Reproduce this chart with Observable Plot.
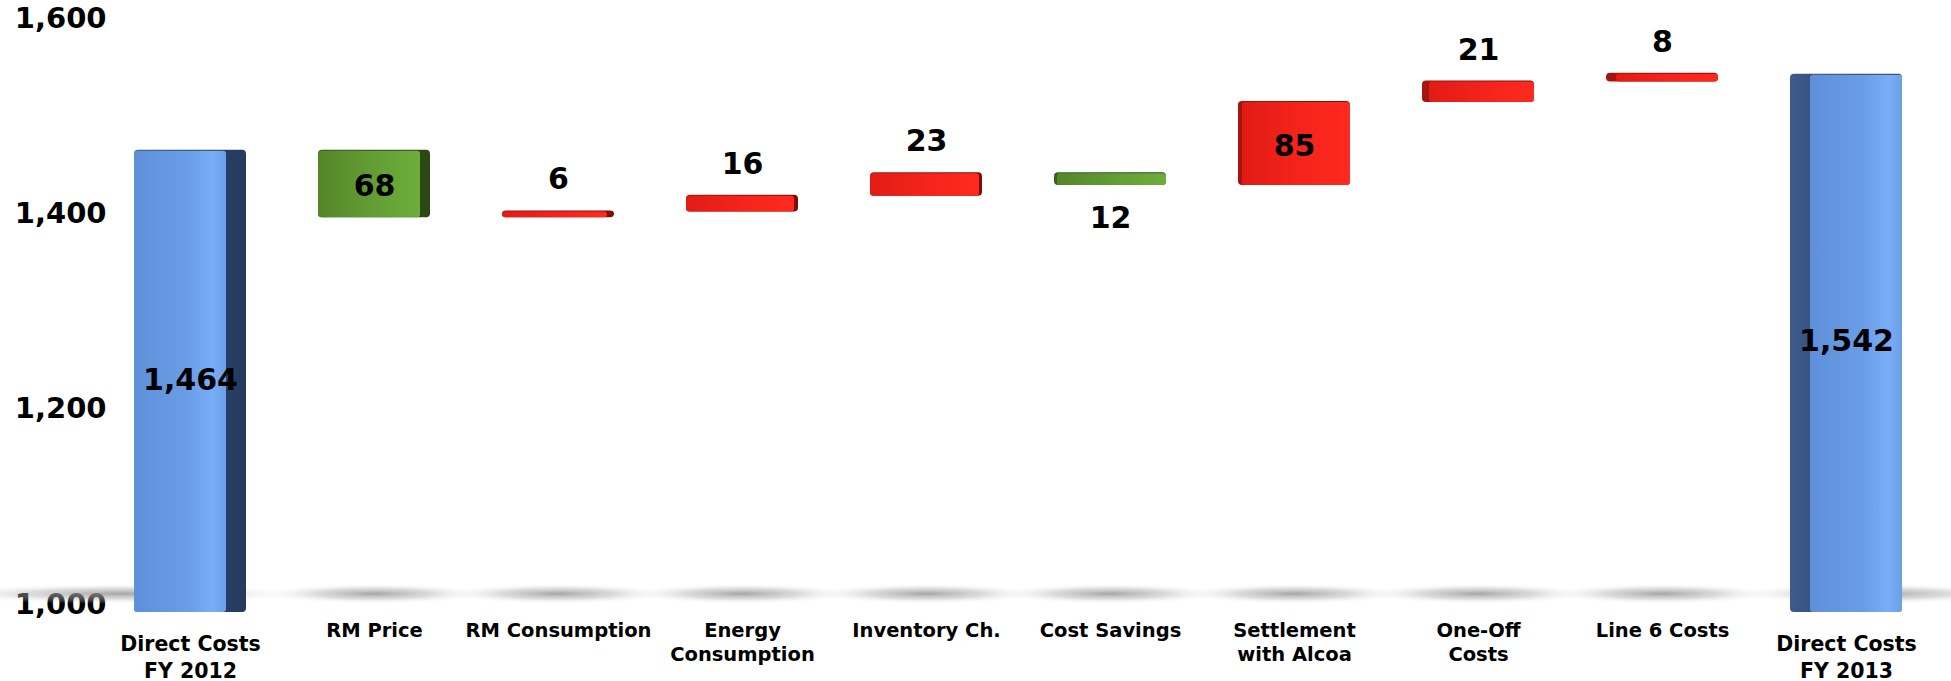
<!DOCTYPE html>
<html>
<head>
<meta charset="utf-8">
<script src="https://cdn.jsdelivr.net/npm/d3@7"></script>
<script src="https://cdn.jsdelivr.net/npm/@observablehq/plot@0.6"></script>
<style>
  html, body { margin: 0; padding: 0; background: #ffffff; }
  #chart svg { display: block; font-family: "DejaVu Sans", sans-serif; }
  #chart svg g[aria-label^="y-axis"] text { font: bold 29px "DejaVu Sans", sans-serif; fill: #000; }
</style>
</head>
<body>
<div id="chart"></div>
<script>
// ---- data ----
const categories = [
  "Direct Costs\nFY 2012", "RM Price", "RM Consumption", "Energy\nConsumption",
  "Inventory Ch.", "Cost Savings", "Settlement\nwith Alcoa", "One-Off\nCosts",
  "Line 6 Costs", "Direct Costs\nFY 2013"
];
const values = [1464, 68, 6, 16, 23, 12, 85, 21, 8, 1542];
const kinds = ["total", "decrease", "increase", "increase", "increase", "decrease", "increase", "increase", "increase", "total"];
const yTicks = [1000, 1200, 1400, 1600];
const yDomain = [1000, 1600];

// ---- derived waterfall table ----
const fmt = d3.format(",");
let running = 0;
const n = categories.length;
const rows = categories.map((cat, i) => {
  const v = values[i], k = kinds[i];
  let a, b;
  if (k === "total") { a = yDomain[0]; b = v; running = v; }
  else { a = running; b = running + (k === "increase" ? v : -v); running = b; }
  const inside = k === "total" || v >= 50;
  return {
    cat, i, k, v,
    y1: Math.min(a, b), y2: Math.max(a, b),
    label: fmt(v),
    pos: inside ? "inside" : (k === "increase" ? "above" : "below"),
    side: k === "total" ? 20 : Math.max(3, Math.round(Math.abs(i - (n - 1) / 2) * 2.8)),
    leftHalf: i < n / 2
  };
});

// ---- marks ----
const shadowMarks = rows.map(r => Plot.barY([r], {
  x: "cat", y1: () => 1000, y2: () => 1021,
  fill: "url(#floorShadow)",
  insetLeft: r.i === 0 ? -200 : -60,
  insetRight: r.i === n - 1 ? -120 : -60
}));

const barMarks = rows.flatMap(r => {
  const ext = r.k === "total" ? -8 : 0;
  return [
    Plot.barY([r], {
      x: "cat", y1: "y1", y2: "y2",
      fill: `url(#${r.k}-side)`, rx: 4, insetBottom: ext, insetTop: -1
    }),
    Plot.barY([r], {
      x: "cat", y1: "y1", y2: "y2",
      fill: `url(#${r.k}-front)`, rx: 3, insetBottom: ext,
      insetLeft: r.leftHalf ? 0 : r.side,
      insetRight: r.leftHalf ? r.side : 0
    })
  ];
});

const labelFont = { fontFamily: "DejaVu Sans", fontWeight: "bold", fontSize: 30, fill: "#000" };

const plot = Plot.plot({
  width: 1951,
  height: 681,
  marginLeft: 134,
  marginRight: 48,
  marginTop: 18,
  marginBottom: 77,
  style: { background: "#ffffff", overflow: "visible" },
  x: { domain: categories, axis: null, paddingInner: 0.39, paddingOuter: 0 },
  y: {
    domain: yDomain, ticks: yTicks, tickFormat: d => fmt(d),
    tickSize: 0, tickPadding: 28, label: null
  },
  marks: [
    ...shadowMarks,
    ...barMarks,
    Plot.text(rows.filter(r => r.pos === "inside"), {
      x: "cat", y: r => (r.y1 + r.y2) / 2, text: "label", ...labelFont, dy: 2
    }),
    Plot.text(rows.filter(r => r.pos === "above"), {
      x: "cat", y: "y2", text: "label", ...labelFont, dy: -32
    }),
    Plot.text(rows.filter(r => r.pos === "below"), {
      x: "cat", y: "y1", text: "label", ...labelFont, dy: 33
    }),
    Plot.text(rows.filter(r => r.k !== "total"), {
      x: "cat", text: "cat", frameAnchor: "bottom", lineAnchor: "top",
      dy: 15, fontFamily: "DejaVu Sans", fontWeight: "bold", fontSize: 19.5,
      lineHeight: 1.25, fill: "#000"
    }),
    Plot.text(rows.filter(r => r.k === "total"), {
      x: "cat", text: "cat", frameAnchor: "bottom", lineAnchor: "top",
      dy: 28, fontFamily: "DejaVu Sans", fontWeight: "bold", fontSize: 20.5,
      lineHeight: 1.3, fill: "#000"
    })
  ]
});

// gradients for the 3D-style faces and the floor shadow
const defs = d3.select(plot).insert("defs", ":first-child");
function lin(id, stops, x2 = "100%", y2 = "0%") {
  const g = defs.append("linearGradient").attr("id", id)
    .attr("x1", "0%").attr("y1", "0%").attr("x2", x2).attr("y2", y2);
  stops.forEach(([o, c]) => g.append("stop").attr("offset", o).attr("stop-color", c));
}
lin("total-front", [["0%", "#5f8fd9"], ["60%", "#6b9ee8"], ["85%", "#78adf7"], ["100%", "#6d9fe8"]]);
lin("total-side", [["0%", "#3d5b8c"], ["50%", "#2d4670"], ["100%", "#243a5e"]]);
lin("decrease-front", [["0%", "#55852a"], ["60%", "#64a035"], ["100%", "#6dad3b"]]);
lin("decrease-side", [["0%", "#3a5f1d"], ["100%", "#2b4714"]]);
lin("increase-front", [["0%", "#e01c15"], ["50%", "#f4231b"], ["100%", "#ff2a20"]]);
lin("increase-side", [["0%", "#a71510"], ["100%", "#7d0c08"]]);
const rg = defs.append("radialGradient").attr("id", "floorShadow")
  .attr("cx", "50%").attr("cy", "50%").attr("r", "50%");
rg.append("stop").attr("offset", "0%").attr("stop-color", "#8f8f8f").attr("stop-opacity", 0.8);
rg.append("stop").attr("offset", "50%").attr("stop-color", "#b0b0b0").attr("stop-opacity", 0.45);
rg.append("stop").attr("offset", "100%").attr("stop-color", "#ffffff").attr("stop-opacity", 0);

document.getElementById("chart").appendChild(plot);
</script>
</body>
</html>
